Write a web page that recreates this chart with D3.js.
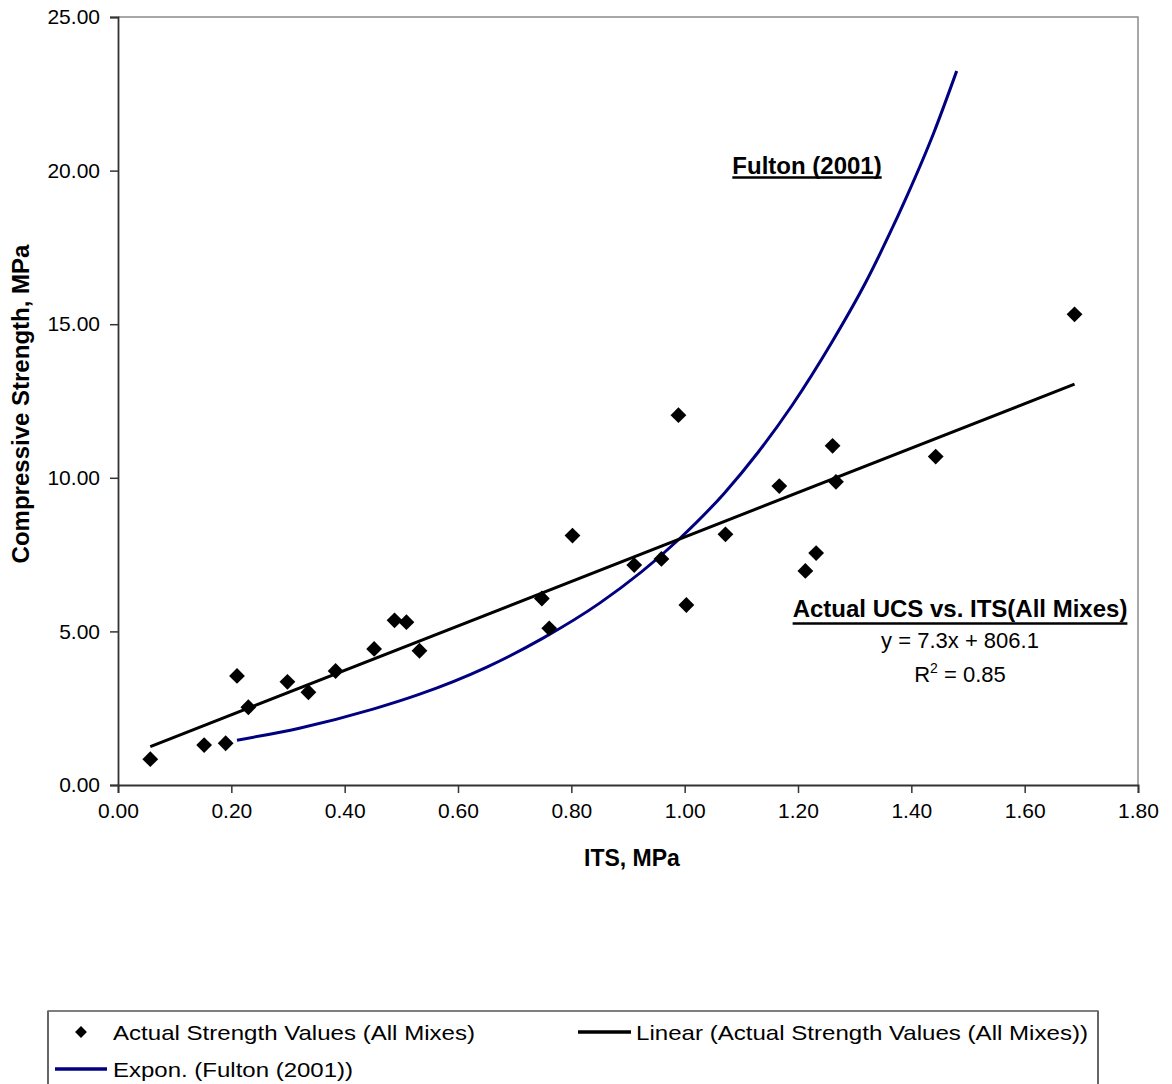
<!DOCTYPE html>
<html>
<head>
<meta charset="utf-8">
<script src="https://cdn.jsdelivr.net/npm/d3@7"></script>
<style>
  html, body { margin: 0; padding: 0; background: #fff; }
  svg { display: block; font-family: "Liberation Sans", Arial, sans-serif; }
</style>
</head>
<body>
<svg id="chart" width="1172" height="1084"></svg>
<script>
// ---- Data ----
const itsValues = [0.057,0.152,0.190,0.210,0.230,0.299,0.336,0.384,0.452,0.488,0.509,0.532,0.748,0.761,0.802,0.911,0.959,0.989,1.003,1.072,1.167,1.213,1.232,1.261,1.267,1.443,1.688];
const ucsValues = [0.84,1.30,1.36,3.55,2.53,3.36,3.02,3.71,4.43,5.36,5.30,4.37,6.07,5.10,8.12,7.16,7.36,12.04,5.86,8.16,9.73,6.97,7.55,11.04,9.87,10.69,15.32];

const linearX = [0.057, 1.688];
const linearY = [1.25, 13.05];

const fultonX = [0.21,0.32,0.45,0.53,0.65,0.75,0.85,0.99,1.07,1.13,1.19,1.26,1.32,1.36,1.39,1.44,1.48];
const fultonY = [1.46,1.85,2.47,2.94,3.83,4.78,5.92,8.00,9.50,10.84,12.37,14.42,16.38,17.88,19.08,21.25,23.24];

const xTicks = [0,0.2,0.4,0.6,0.8,1.0,1.2,1.4,1.6,1.8];
const yTicks = [0,5,10,15,20,25];

const xTitle = "ITS, MPa";
const yTitle = "Compressive Strength, MPa";
const fultonLabel = "Fulton (2001)";
const fitTitle = "Actual UCS vs. ITS(All Mixes)";
const fitEquation = "y = 7.3x + 806.1";
const legendLabels = ["Actual Strength Values (All Mixes)", "Linear (Actual Strength Values (All Mixes))", "Expon. (Fulton (2001))"];

// ---- Layout ----
const svg = d3.select("#chart");
const L = 118, R = 1138, T = 17, B = 785;
const x = d3.scaleLinear().domain([0, 1.8]).range([L, R]);
const y = d3.scaleLinear().domain([0, 25]).range([B, T]);
const navy = "#000080";

svg.append("rect").attr("width", 1172).attr("height", 1084).attr("fill", "#fff");

// plot area border (top/right gray)
svg.append("path")
  .attr("d", `M${L},${T}H${R}V${B}`)
  .attr("fill", "none").attr("stroke", "#8c8c8c").attr("stroke-width", 1.5);

// axes
const xAxis = svg.append("g").attr("transform", `translate(0,${B})`)
  .call(d3.axisBottom(x).tickValues(xTicks).tickFormat(d3.format(".2f")).tickSize(8).tickPadding(10));
const yAxis = svg.append("g").attr("transform", `translate(${L},0)`)
  .call(d3.axisLeft(y).tickValues(yTicks).tickFormat(d3.format(".2f")).tickSize(8).tickPadding(10));
[xAxis, yAxis].forEach(g => {
  g.select(".domain").attr("stroke", "#333").attr("stroke-width", 1.8);
  g.selectAll(".tick line").attr("stroke", "#333").attr("stroke-width", 1.5);
  g.selectAll(".tick text").attr("font-size", 21).attr("fill", "#000")
    .attr("font-family", "Liberation Sans, Arial, sans-serif");
});

// axis titles
svg.append("text").attr("x", (L + R) / 2 + 4).attr("y", 866)
  .attr("text-anchor", "middle").attr("font-size", 23).attr("font-weight", "bold").text(xTitle);
svg.append("text").attr("transform", `translate(29,${(T + B) / 2 + 3}) rotate(-90)`)
  .attr("text-anchor", "middle").attr("font-size", 24).attr("font-weight", "bold").text(yTitle);

// Fulton exponential curve
const fultonPts = fultonX.map((d, i) => [d, fultonY[i]]);
svg.append("path").datum(fultonPts)
  .attr("d", d3.line().x(d => x(d[0])).y(d => y(d[1])).curve(d3.curveMonotoneX))
  .attr("fill", "none").attr("stroke", navy).attr("stroke-width", 3);

// Linear trendline
const linPts = linearX.map((d, i) => [d, linearY[i]]);
svg.append("path").datum(linPts)
  .attr("d", d3.line().x(d => x(d[0])).y(d => y(d[1])))
  .attr("fill", "none").attr("stroke", "#000").attr("stroke-width", 3);

// data points (diamonds)
const diamond = d3.symbol().type(d3.symbolSquare).size(125);
svg.append("g").selectAll("path").data(itsValues.map((d, i) => [d, ucsValues[i]]))
  .join("path")
  .attr("d", diamond)
  .attr("transform", d => `translate(${x(d[0])},${y(d[1])}) rotate(45)`)
  .attr("fill", "#000");

// annotations
function underlined(txt, cx, baseline, size, weight, uY) {
  const t = svg.append("text").attr("x", cx).attr("y", baseline)
    .attr("text-anchor", "middle").attr("font-size", size).attr("font-weight", weight).text(txt);
  const w = t.node().getComputedTextLength();
  svg.append("line").attr("x1", cx - w / 2).attr("x2", cx + w / 2)
    .attr("y1", uY).attr("y2", uY).attr("stroke", "#000").attr("stroke-width", 2.5);
}
underlined(fultonLabel, 807, 174, 24, "bold", 177.5);
underlined(fitTitle, 960, 617, 24, "bold", 623.5);
svg.append("text").attr("x", 960).attr("y", 648).attr("text-anchor", "middle")
  .attr("font-size", 22).text(fitEquation);
const r2 = svg.append("text").attr("x", 960).attr("y", 682).attr("text-anchor", "middle").attr("font-size", 22);
r2.append("tspan").text("R");
r2.append("tspan").attr("font-size", 14).attr("dy", -9).text("2");
r2.append("tspan").attr("dy", 9).text(" = 0.85");

// legend
const lg = svg.append("g");
lg.append("path").attr("d", "M48,1090V1011H1098V1090")
  .attr("fill", "#fff").attr("stroke", "#000").attr("stroke-width", 1.2);
lg.append("line").attr("x1", 48).attr("x2", 1098).attr("y1", 1011).attr("y2", 1011)
  .attr("stroke", "#7f7f7f").attr("stroke-width", 1.5);
lg.append("path").attr("d", d3.symbol().type(d3.symbolSquare).size(70))
  .attr("transform", "translate(81,1032) rotate(45)").attr("fill", "#000");
lg.append("text").attr("x", 113).attr("y", 1039.5).attr("font-size", 21)
  .attr("textLength", 362).attr("lengthAdjust", "spacingAndGlyphs").text(legendLabels[0]);
lg.append("line").attr("x1", 578).attr("x2", 631).attr("y1", 1032).attr("y2", 1032)
  .attr("stroke", "#000").attr("stroke-width", 3.5);
lg.append("text").attr("x", 636).attr("y", 1039.5).attr("font-size", 21)
  .attr("textLength", 452).attr("lengthAdjust", "spacingAndGlyphs").text(legendLabels[1]);
lg.append("line").attr("x1", 55).attr("x2", 107).attr("y1", 1069).attr("y2", 1069)
  .attr("stroke", navy).attr("stroke-width", 3.5);
lg.append("text").attr("x", 113).attr("y", 1076.5).attr("font-size", 21)
  .attr("textLength", 240).attr("lengthAdjust", "spacingAndGlyphs").text(legendLabels[2]);
</script>
</body>
</html>
